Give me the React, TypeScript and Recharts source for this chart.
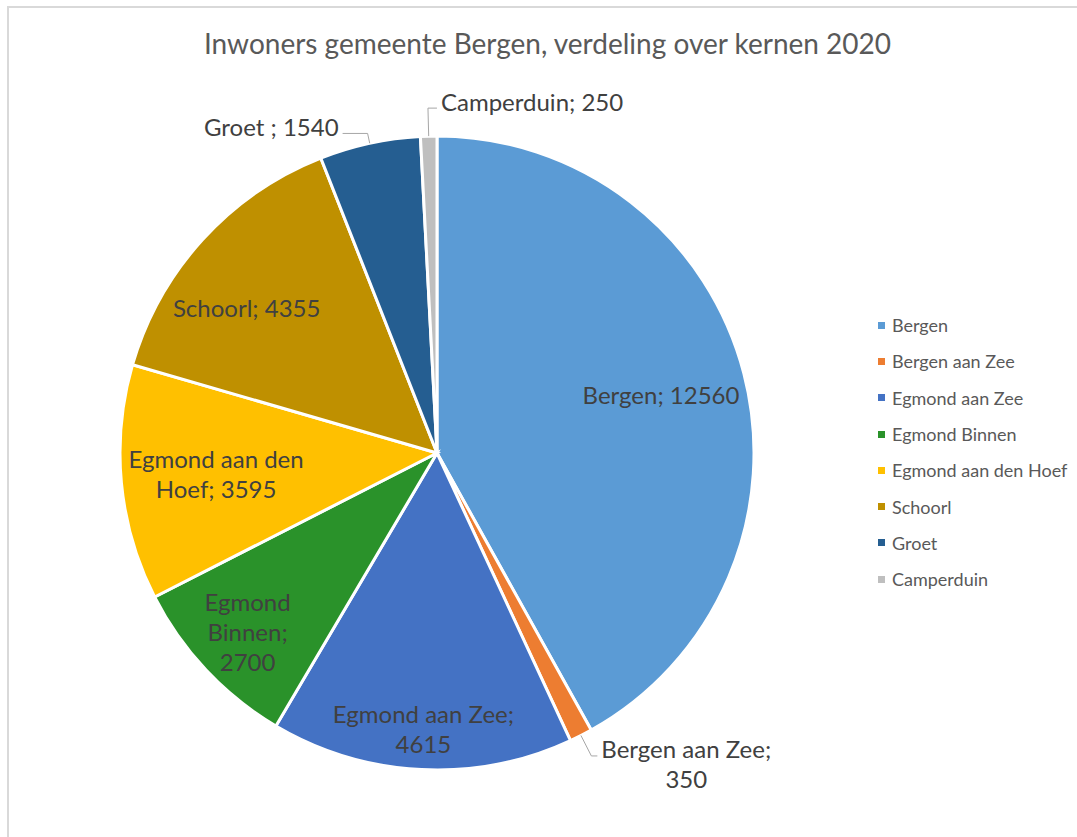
import React from "react";
import { PieChart, Pie, Cell } from "recharts";

// inwoners per kern, gemeente Bergen 2020
const kernen = [
  "Bergen",
  "Bergen aan Zee",
  "Egmond aan Zee",
  "Egmond Binnen",
  "Egmond aan den Hoef",
  "Schoorl",
  "Groet ",
  "Camperduin",
];
const inwoners = [12560, 350, 4615, 2700, 3595, 4355, 1540, 250];

const COLORS = [
  "#5B9BD5",
  "#ED7D31",
  "#4472C4",
  "#2A922A",
  "#FFC000",
  "#BF9000",
  "#255E91",
  "#BFBFBF",
];

// label placement: inside = fraction of radius, outside = leader length in px
type LabelLayout = {
  inside?: number;
  turn?: number;
  outside?: number;
  hLen?: number;
  side?: number;
  wrap: number;
};
const LABEL_LAYOUT: LabelLayout[] = [
  { inside: 0.73, wrap: 20 },
  { outside: 23, hLen: 6, wrap: 15 },
  { inside: 0.87, wrap: 15 },
  { inside: 0.82, wrap: 7 },
  { inside: 0.7, wrap: 14 },
  { inside: 0.755, turn: 5, wrap: 20 },
  { outside: 10, hLen: 25, wrap: 20 },
  { outside: 28, hLen: 9, side: 1, wrap: 20 },
];

const FONT = "Lato, 'Open Sans', sans-serif";
const LABEL_SIZE = 24;
const LINE_H = 30;
const RADIAN = Math.PI / 180;

const data = kernen.map((name, i) => ({ name, value: inwoners[i] }));

function wrapText(text: string, max: number) {
  const words = text.split(" ");
  const lines: string[] = [];
  let cur = "";
  words.forEach((w) => {
    const next = cur ? cur + " " + w : w;
    if (next.length <= max || !cur) cur = next;
    else {
      lines.push(cur);
      cur = w;
    }
  });
  if (cur) lines.push(cur);
  return lines;
}

let ctx: CanvasRenderingContext2D | null = null;
function textWidth(s: string) {
  if (!ctx) ctx = document.createElement("canvas").getContext("2d");
  if (!ctx) return s.length * LABEL_SIZE * 0.5;
  ctx.font = `${LABEL_SIZE}px Lato`;
  return ctx.measureText(s).width;
}

const renderLabel = (props: any) => {
  const { cx, cy, midAngle, outerRadius, index, name, value } = props;
  const layout = LABEL_LAYOUT[index];
  const lines = wrapText(`${name}; ${value}`, layout.wrap);
  const angle = midAngle + (layout.turn || 0);
  const cos = Math.cos(-angle * RADIAN);
  const sin = Math.sin(-angle * RADIAN);

  if (layout.inside !== undefined) {
    const r = outerRadius * layout.inside;
    const x = cx + r * cos;
    const y = cy + r * sin;
    const y0 = y - ((lines.length - 1) * LINE_H) / 2;
    return (
      <g key={`lbl-${index}`}>
        {lines.map((l, i) => (
          <text
            key={i}
            x={x}
            y={y0 + i * LINE_H}
            textAnchor="middle"
            dominantBaseline="central"
            fill="#404040"
            fontSize={LABEL_SIZE}
            fontFamily={FONT}
          >
            {l}
          </text>
        ))}
      </g>
    );
  }

  const ext = layout.outside || 20;
  const ex = cx + outerRadius * cos;
  const ey = cy + outerRadius * sin;
  const bx = cx + (outerRadius + ext) * cos;
  const by = cy + (outerRadius + ext) * sin;
  const dir = layout.side || (cos >= 0 ? 1 : -1);
  const hx = bx + dir * (layout.hLen || 6);
  const w = Math.max(...lines.map(textWidth));
  const centerX = dir > 0 ? hx + 4 + w / 2 : hx - 4 - w / 2;
  const y0 = by - 7;
  return (
    <g key={`lbl-${index}`}>
      <polyline
        points={`${ex},${ey} ${bx},${by} ${hx},${by}`}
        fill="none"
        stroke="#A6A6A6"
        strokeWidth={1}
      />
      {lines.map((l, i) => (
        <text
          key={i}
          x={centerX}
          y={y0 + i * LINE_H}
          textAnchor="middle"
          dominantBaseline="central"
          fill="#404040"
          fontSize={LABEL_SIZE}
          fontFamily={FONT}
        >
          {l}
        </text>
      ))}
    </g>
  );
};

function ChartLegend() {
  return (
    <div style={{ position: "absolute", left: 878, top: 307, fontFamily: FONT }}>
      {kernen.map((name, i) => (
        <div
          key={name}
          style={{
            display: "flex",
            alignItems: "center",
            height: 36.3,
            color: "#595959",
            fontSize: 18,
          }}
        >
          <span
            style={{
              display: "inline-block",
              width: 7,
              height: 7,
              background: COLORS[i],
              marginRight: 7,
            }}
          />
          <span>{name.trim()}</span>
        </div>
      ))}
    </div>
  );
}

export default function App() {
  return (
    <div
      style={{
        position: "absolute",
        left: 0,
        top: 0,
        width: 1077,
        height: 837,
        overflow: "hidden",
        background: "#fff",
      }}
    >
      <div
        style={{
          position: "absolute",
          left: 7,
          top: 6,
          width: 1200,
          height: 1000,
          border: "2px solid #D9D9D9",
        }}
      />
      <div
        style={{
          position: "absolute",
          left: 0,
          top: 26,
          width: 1095,
          textAlign: "center",
          fontFamily: FONT,
          fontSize: 28,
          color: "#595959",
          lineHeight: "34px",
        }}
      >
        Inwoners gemeente Bergen, verdeling over kernen 2020
      </div>
      <div style={{ position: "absolute", left: 0, top: 0 }}>
        <PieChart
          width={1077}
          height={837}
          margin={{ top: 0, right: 0, bottom: 0, left: 0 }}
        >
          <Pie
            data={data}
            dataKey="value"
            nameKey="name"
            cx={437}
            cy={453}
            outerRadius={317}
            startAngle={90}
            endAngle={-270}
            stroke="#FFFFFF"
            strokeWidth={3}
            label={renderLabel}
            labelLine={false}
            isAnimationActive={false}
          >
            {data.map((d, i) => (
              <Cell key={d.name} fill={COLORS[i]} />
            ))}
          </Pie>
        </PieChart>
      </div>
      <ChartLegend />
    </div>
  );
}
